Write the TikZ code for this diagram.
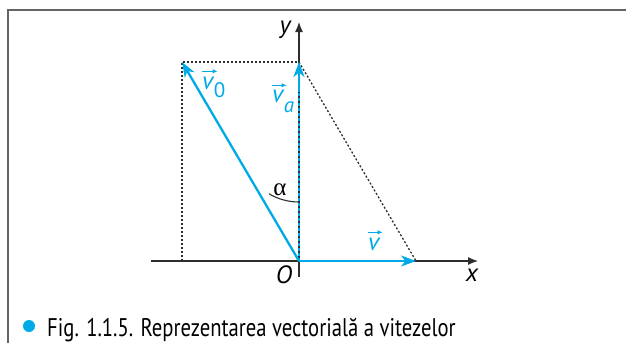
\documentclass[tikz,border=0pt]{standalone}
\usepackage{fontspec}
\setmainfont{PT Sans}
\newfontfamily\greekfont{Liberation Serif}
\usetikzlibrary{arrows.meta}
\definecolor{vblue}{RGB}{0,170,230}
\definecolor{axisgray}{RGB}{45,45,45}
\definecolor{framegray}{RGB}{100,100,100}
\begin{document}
\begin{tikzpicture}[x=1pt,y=-1pt,
  axis/.style={draw=axisgray,line width=1.2pt,-{Latex[length=10pt,width=8pt]}},
  vecarrow/.style={draw=vblue,line width=2.3pt,-{Stealth[length=15pt,width=11pt,inset=4.5pt]}},
  dotline/.style={draw=axisgray,line width=1.3pt,dash pattern=on 2pt off 2pt},
  vecsym/.style={draw=vblue,line width=0.9pt,-{Latex[length=5pt,width=4.5pt]}},
  lbl/.style={inner sep=0pt,anchor=base,font=\fontsize{25}{25}\selectfont\itshape},
  vlbl/.style={inner sep=0pt,anchor=base west,text=vblue,font=\fontsize{25}{25}\selectfont\itshape},
  sublbl/.style={inner sep=0pt,anchor=base west,text=vblue,font=\fontsize{21}{21}\selectfont}]
\useasboundingbox (0,0) rectangle (626,343);
\draw[framegray,line width=1.6pt] (8,343) -- (8,10) -- (626,10);
\coordinate (O) at (299,261);
\coordinate (xs) at (151,261);
\coordinate (xe) at (478,261);
\coordinate (ys) at (299,277);
\coordinate (ye) at (299,22);
\coordinate (V0) at (182,62);
\coordinate (VA) at (299,62);
\coordinate (V) at (416,261);
\coordinate (C) at (182,261);
\draw[axis] (xs) -- (xe);
\draw[axis] (ys) -- (ye);
\draw[dotline] (C) -- (V0) -- (VA);
\draw[dotline] (VA) -- (V);
\draw[vblue,line width=2pt,dash pattern=on 3pt off 2pt] (O) -- (VA);
\draw[vecarrow] (O) -- (V0);
\draw[vecarrow] ([yshift=-30pt]VA) -- (VA);
\draw[vecarrow] (O) -- (V);
\draw[axisgray,line width=1.1pt] (O) ++(0,-59) arc[start angle=90,end angle=120.5,radius=59];
\node[inner sep=0pt,anchor=base,font=\greekfont\fontsize{25}{25}\selectfont] (alpha) at (280,195) {α};
\node[lbl] (ylab) at (285,33) {y};
\node[lbl] (xlab) at (472,281) {x};
\node[lbl] (olab) at (284,283) {O};
% v0
\node[vlbl] (v0v) at (202,89) {v};
\node[sublbl] (v0s) at (v0v.base east) {\raisebox{-8pt}{0}};
\draw[vecsym] ([xshift=0pt,yshift=5pt]v0v.north west) -- ([xshift=4pt,yshift=5pt]v0v.north east);
% va
\node[vlbl] (vav) at (272,102) {v};
\node[sublbl,font=\fontsize{21}{21}\selectfont\itshape] (vas) at (vav.base east) {\raisebox{-10pt}{a}};
\draw[vecsym] ([xshift=0pt,yshift=4pt]vav.north west) -- ([xshift=3pt,yshift=4pt]vav.north east);
% v
\node[vlbl] (vv) at (368,250) {v};
\draw[vecsym] ([xshift=0pt,yshift=5pt]vv.north west) -- ([xshift=3pt,yshift=5pt]vv.north east);
\fill[vblue] (29,326) circle (6pt) node (bul) {};
\node[anchor=base west,inner sep=0pt,font=\fontsize{25.5}{25.5}\selectfont] (cap) at (47,336) {\scalebox{0.81}[1]{Fig. 1.1.5. Reprezentarea vectorială a vitezelor}};
\end{tikzpicture}
\end{document}
